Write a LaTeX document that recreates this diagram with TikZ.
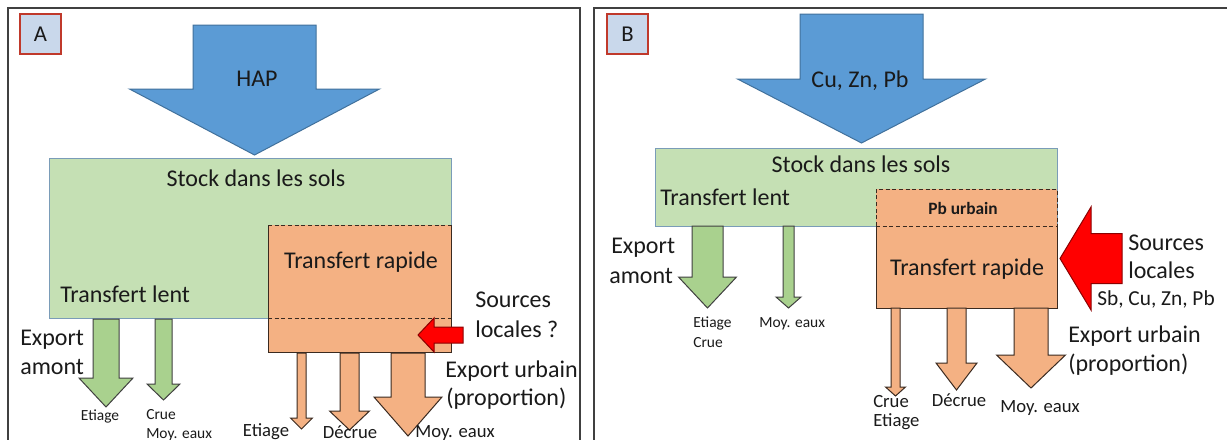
\documentclass[tikz,border=0pt]{standalone}
\usepackage{fontspec}
\setmainfont{Carlito}
\definecolor{bluefill}{HTML}{5B9BD5}
\definecolor{bluedraw}{HTML}{41719C}
\definecolor{greenbox}{HTML}{C5E0B4}
\definecolor{greenboxdraw}{HTML}{7A9CB8}
\definecolor{greenarrow}{HTML}{A9D18E}
\definecolor{orangefill}{HTML}{F4B183}
\definecolor{darkline}{HTML}{3A2A20}
\definecolor{redfill}{HTML}{FF0000}
\definecolor{reddraw}{HTML}{8B0000}
\definecolor{labelfill}{HTML}{C9D8EB}
\definecolor{labeldraw}{HTML}{C0392B}
\definecolor{txt}{HTML}{1A1A1A}
\newcommand{\bigarrowdown}[7]{%
  \draw[#1] ({#2-#4},#3) -- ({#2+#4},#3) -- ({#2+#4},#5) -- ({#2+#6},#5) -- (#2,#7) -- ({#2-#6},#5) -- ({#2-#4},#5) -- cycle;}
\newcommand{\bigarrowleft}[7]{% style, ymid, xright, shaft half, xhead, head half, xtip
  \draw[#1] (#3,{#2-#4}) -- (#3,{#2+#4}) -- (#5,{#2+#4}) -- (#5,{#2+#6}) -- (#7,#2) -- (#5,{#2-#6}) -- (#5,{#2-#4}) -- cycle;}
\tikzset{
  frame/.style={draw=black!75, line width=0.8pt},
  labelbox/.style={draw=labeldraw, fill=labelfill, line width=1.1pt, minimum width=30.75pt, minimum height=30pt, inner sep=0pt, font=\fontsize{17}{20}\selectfont, text=txt},
  bluearrow/.style={fill=bluefill, draw=bluedraw, line width=0.75pt},
  greenarr/.style={fill=greenarrow, draw=black!75, line width=0.75pt},
  orangearr/.style={fill=orangefill, draw=darkline, line width=0.75pt},
  redarr/.style={fill=redfill, draw=reddraw, line width=0.75pt},
  txtbase/.style={inner sep=0pt, text height=2.0ex, text depth=0pt, text=txt},
  big/.style={txtbase, font=\fontsize{18}{21}\selectfont},
  mid/.style={txtbase, font=\fontsize{14}{17}\selectfont},
  small/.style={txtbase, font=\fontsize{11.6}{14}\selectfont},
  dashedline/.style={draw=darkline, dashed, dash pattern=on 3pt off 2pt, line width=0.6pt},
  solidline/.style={draw=darkline, line width=0.75pt}
}
\begin{document}
\begin{tikzpicture}[x=0.75pt, y=-0.75pt]
\useasboundingbox (0,0) rectangle (1227,439);
\clip (0,0) rectangle (1227,439);
\fill[white] (0,0) rectangle (1227,439);
% ---------- Panel A ----------
\draw[frame] (8,8) rectangle (580,460);
\node[labelbox] (labA) at (40.5,34) {A};
\bigarrowdown{bluearrow}{254.5}{25}{61.5}{89}{125}{155}
\node[big] (hap) at (257,80) {HAP};
% green stock box
\draw[fill=greenbox, draw=greenboxdraw, line width=0.75pt] (49,158) rectangle (451,318);
% orange rapid box
\fill[orangefill] (268,225) rectangle (451,352);
\draw[solidline] (268,225) -- (268,352) -- (451,352) -- (451,225);
\draw[dashedline] (268,225) -- (451,225);
\draw[dashedline] (268,318) -- (451,318);
\node[big] (stockAt) at (256,180) {Stock dans les sols};
\node[big, anchor=west] (lentA) at (60,296) {Transfert lent};
\node[big] (rapA) at (361,262) {Transfert rapide};
% red arrow A
\bigarrowleft{redarr}{335}{463}{8}{434}{17}{418}
\node[big, anchor=west] (srcA1) at (475,301) {Sources};
\node[big, anchor=west] (srcA2) at (475,331) {locales ?};
\node[big, anchor=west] (expuA1) at (445,371) {Export urbain};
\node[big, anchor=west] (expuA2) at (446,399) {(proportion)};
% green arrows A
\bigarrowdown{greenarr}{106}{319}{13}{378}{27}{407}
\bigarrowdown{greenarr}{163.5}{319}{8.5}{384}{16.5}{400}
\node[big, anchor=west] (expA1) at (20,339) {Export};
\node[big, anchor=west] (expA2) at (20,368) {amont};
\node[small] (etA) at (100,414) {Etiage};
\node[small, anchor=west] (crA) at (146,413) {Crue};
\node[small, anchor=west] (moyA) at (146,432) {Moy. eaux};
% orange arrows A
\bigarrowdown{orangearr}{301.5}{353}{4.5}{418}{11}{429}
\bigarrowdown{orangearr}{349.5}{353}{9.5}{411}{20}{430}
\bigarrowdown{orangearr}{408}{353}{17}{397}{34}{436}
\node[mid] (etA2) at (266,430) {Etiage};
\node[mid] (decA) at (350,432) {Décrue};
\node[mid] (moyA2) at (455,431) {Moy. eaux};
% ---------- Panel B ----------
\draw[frame] (594,8) rectangle (1240,460);
\node[labelbox] (labB) at (627.5,34) {B};
\bigarrowdown{bluearrow}{861.5}{14}{61.5}{79}{124}{143}
\node[big] (cuzn) at (860,81) {Cu, Zn, Pb};
\draw[fill=greenbox, draw=greenboxdraw, line width=0.75pt] (655,148) rectangle (1057,226);
\fill[orangefill] (876,189) rectangle (1057,308);
\draw[solidline] (876,226) -- (876,308) -- (1057,308) -- (1057,226);
\draw[dashedline] (876,226) -- (876,189) -- (1057,189) -- (1057,226);
\draw[dashedline] (876,226) -- (1057,226);
\node[big] (stockBt) at (861,166) {Stock dans les sols};
\node[big, anchor=west] (lentB) at (660,199) {Transfert lent};
\node[txtbase, font=\fontsize{13}{15}\selectfont\bfseries] (pbu) at (963,208) {Pb urbain};
\node[big] (rapB) at (967,269) {Transfert rapide};
% red arrow B
\bigarrowleft{redarr}{258.5}{1122}{25}{1091}{51.5}{1060}
\node[big, anchor=west] (srcB1) at (1128,244) {Sources};
\node[big, anchor=west] (srcB2) at (1128,272) {locales};
\node[txtbase, font=\fontsize{16}{19}\selectfont, anchor=west] (sbB) at (1097,299) {Sb, Cu, Zn, Pb};
\node[big, anchor=west] (expuB1) at (1068,336) {Export urbain};
\node[big, anchor=west] (expuB2) at (1068,365) {(proportion)};
% green arrows B
\bigarrowdown{greenarr}{707.5}{226}{15.5}{277}{29}{308}
\bigarrowdown{greenarr}{788.5}{226}{5.5}{297}{12.5}{308}
\node[big, anchor=west] (expB1) at (611,247) {Export};
\node[big, anchor=west] (expB2) at (609,277) {amont};
\node[small, anchor=west] (etB) at (693,321) {Etiage};
\node[small, anchor=west] (crB) at (693,341) {Crue};
\node[small, anchor=west] (moyB) at (759,321) {Moy. eaux};
% orange arrows B
\bigarrowdown{orangearr}{895.5}{308}{4.5}{387}{10}{396}
\bigarrowdown{orangearr}{956.5}{308}{9.5}{363}{20.5}{390}
\bigarrowdown{orangearr}{1031}{308}{17}{355}{34.5}{388}
\node[mid, anchor=west] (crB2) at (873,401) {Crue};
\node[mid, anchor=west] (etB2) at (873,420) {Etiage};
\node[mid] (decB) at (959,400) {Décrue};
\node[mid] (moyB2) at (1040,406) {Moy. eaux};
\end{tikzpicture}
\end{document}
